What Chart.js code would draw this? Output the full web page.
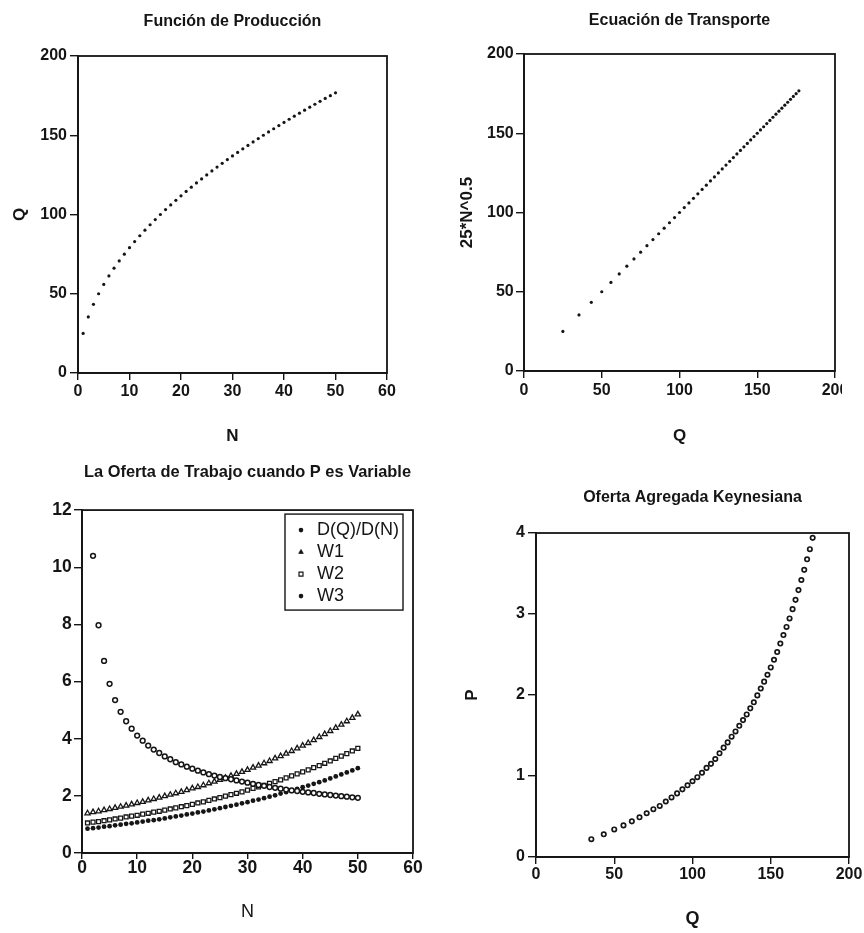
<!DOCTYPE html>
<html>
<head>
<meta charset="utf-8">
<script src="https://cdn.jsdelivr.net/npm/chart.js@4.4.1/dist/chart.umd.min.js"></script>
<style>
html,body{margin:0;padding:0;background:#fff;}
body{width:864px;height:933px;position:relative;overflow:hidden;}
.p{position:absolute;overflow:hidden;}
canvas{display:block;}
</style>
</head>
<body>
<div class="p" style="left:0;top:0;width:432px;height:447px"><canvas id="cA" width="432" height="447" style="width:432px;height:447px"></canvas></div>
<div class="p" style="left:432px;top:0;width:410px;height:447px"><canvas id="cB" width="432" height="447" style="width:432px;height:447px"></canvas></div>
<div class="p" style="left:0;top:447px;width:432px;height:486px"><canvas id="cC" width="432" height="486" style="width:432px;height:486px"></canvas></div>
<div class="p" style="left:432px;top:447px;width:432px;height:486px"><canvas id="cD" width="432" height="486" style="width:432px;height:486px"></canvas></div>
<script>
const FONT = "'Liberation Sans', Arial, Helvetica, sans-serif";
const INK = '#151515';

// ---------------- data ----------------
const N = [1,2,3,4,5,6,7,8,9,10,11,12,13,14,15,16,17,18,19,20,21,22,23,24,25,
           26,27,28,29,30,31,32,33,34,35,36,37,38,39,40,41,42,43,44,45,46,47,48,49,50];
const Q = [25,35.36,43.30,50,55.90,61.24,66.14,70.71,75,79.06,82.92,86.60,90.14,93.54,96.82,
           100,103.08,106.07,108.97,111.80,114.56,117.26,119.90,122.47,125,127.48,129.90,132.29,
           134.63,136.93,139.19,141.42,143.61,145.77,147.90,150,152.07,154.11,156.12,158.11,160.08,
           162.02,163.94,165.83,167.71,169.56,171.39,173.21,175,176.78];
const TRANSPORT = [25,35.36,43.30,50,55.90,61.24,66.14,70.71,75,79.06,82.92,86.60,90.14,93.54,96.82,
           100,103.08,106.07,108.97,111.80,114.56,117.26,119.90,122.47,125,127.48,129.90,132.29,
           134.63,136.93,139.19,141.42,143.61,145.77,147.90,150,152.07,154.11,156.12,158.11,160.08,
           162.02,163.94,165.83,167.71,169.56,171.39,173.21,175,176.78];
// D(Q)/D(N) for N = 2..50
const DQDN = [10.4,7.97,6.72,5.92,5.35,4.94,4.61,4.35,4.11,3.93,3.76,3.62,3.50,3.38,3.28,3.18,
              3.10,3.02,2.95,2.88,2.82,2.76,2.71,2.66,2.62,2.58,2.54,2.50,2.46,2.42,2.38,2.35,
              2.31,2.28,2.25,2.22,2.19,2.17,2.14,2.12,2.10,2.07,2.05,2.03,2.01,1.99,1.97,1.95,1.93];
const W1 = [1.39,1.43,1.46,1.50,1.54,1.58,1.62,1.66,1.70,1.75,1.79,1.84,1.89,1.94,1.99,2.04,2.09,
            2.14,2.20,2.26,2.31,2.37,2.44,2.50,2.56,2.63,2.70,2.77,2.84,2.91,2.99,3.06,3.14,3.22,
            3.31,3.39,3.48,3.57,3.66,3.76,3.85,3.95,4.06,4.16,4.27,4.38,4.49,4.61,4.73,4.85];
const W2 = [1.05,1.08,1.10,1.13,1.16,1.19,1.22,1.26,1.29,1.32,1.36,1.39,1.43,1.46,1.50,1.54,1.58,
            1.62,1.66,1.70,1.75,1.79,1.84,1.89,1.94,1.99,2.04,2.09,2.14,2.20,2.26,2.31,2.37,2.44,
            2.50,2.56,2.63,2.70,2.77,2.84,2.91,2.99,3.06,3.14,3.22,3.31,3.39,3.48,3.57,3.66];
const W3 = [0.85,0.87,0.89,0.92,0.94,0.97,0.99,1.02,1.04,1.07,1.10,1.13,1.15,1.18,1.21,1.25,1.28,
            1.31,1.35,1.38,1.42,1.45,1.49,1.53,1.57,1.61,1.65,1.69,1.74,1.78,1.83,1.87,1.92,1.97,
            2.02,2.08,2.13,2.18,2.24,2.30,2.36,2.42,2.48,2.54,2.61,2.68,2.75,2.82,2.89,2.97];
// P for N = 2..50
const P = [0.22,0.28,0.34,0.39,0.44,0.49,0.54,0.59,0.63,0.685,0.735,0.785,0.835,0.885,0.935,0.985,
           1.04,1.10,1.15,1.21,1.28,1.35,1.415,1.485,1.55,1.62,1.69,1.76,1.835,1.91,1.995,2.08,
           2.165,2.25,2.34,2.435,2.53,2.635,2.74,2.84,2.945,3.06,3.175,3.295,3.42,3.545,3.675,3.80,3.94];

const TICKS_N = [0,10,20,30,40,50,60];
const TICKS_Q = [0,50,100,150,200];
const TICKS_W = [0,2,4,6,8,10,12];
const TICKS_P = [0,1,2,3,4];

// ---------------- helpers ----------------
const pts = (xs, ys) => ys.map((y, i) => ({x: xs[i], y}));

const framePlugin = {
  id: 'frame',
  afterDatasetsDraw(chart) {
    const {ctx, chartArea: a} = chart;
    ctx.save();
    ctx.strokeStyle = INK;
    ctx.lineWidth = 1.8;
    ctx.strokeRect(a.left, a.top, a.right - a.left, a.bottom - a.top);
    ctx.restore();
  }
};

const boxLegend = {
  id: 'boxLegend',
  afterDraw(chart) {
    const {ctx, chartArea: a} = chart;
    const w = 118, h = 96;
    const x0 = a.right - 10 - w, y0 = a.top + 4;
    ctx.save();
    ctx.fillStyle = '#fff';
    ctx.fillRect(x0, y0, w, h);
    ctx.strokeStyle = INK;
    ctx.lineWidth = 1.4;
    ctx.strokeRect(x0, y0, w, h);
    ctx.font = '18px ' + FONT;
    ctx.textBaseline = 'middle';
    ctx.textAlign = 'left';
    chart.data.datasets.forEach((ds, i) => {
      const y = y0 + 16 + i * 22;
      ctx.fillStyle = ds.legendFill;
      ctx.strokeStyle = INK;
      ctx.lineWidth = ds.legendBorder;
      Chart.helpers.drawPoint(ctx, {pointStyle: ds.pointStyle, radius: ds.legendRadius,
        borderWidth: ds.legendBorder, rotation: 0}, x0 + 16, y);
      ctx.fillStyle = INK;
      ctx.fillText(ds.label, x0 + 32, y);
    });
    ctx.restore();
  }
};

function axis(pos, ticksArr, o) {
  return {
    type: 'linear', position: pos,
    min: ticksArr[0], max: ticksArr[ticksArr.length - 1],
    afterBuildTicks(s) { s.ticks = ticksArr.map(v => ({value: v})); },
    ticks: {stepSize: ticksArr[1] - ticksArr[0], color: INK, autoSkip: false, maxRotation: 0,
            font: {family: FONT, size: o.fs, weight: 'bold'}, padding: o.pad,
            callback: v => String(v)},
    grid: {display: true, drawOnChartArea: false, drawTicks: true, tickLength: o.tl,
           color: INK, lineWidth: 1.4},
    border: {display: true, color: INK, width: 1.8},
    title: {display: !!o.title, text: o.title || '', color: INK, padding: 0,
            font: {family: FONT, size: o.tfs || 17, weight: o.tw || 'bold'}},
    afterFit(s) { if (pos === 'bottom') s.height = o.size; else s.width = o.size; }
  };
}

function make(id, cfg) {
  return new Chart(document.getElementById(id), {
    type: 'scatter',
    data: {datasets: cfg.datasets},
    options: {
      responsive: false, animation: false, events: [],
      layout: {padding: cfg.pad},
      plugins: {
        legend: {display: false}, tooltip: {enabled: false},
        title: {display: true, text: cfg.title, fullSize: false, color: INK,
                font: {family: FONT, size: cfg.tsize || 16, weight: 'bold'}, padding: cfg.titlePad}
      },
      scales: {x: cfg.x, y: cfg.y}
    },
    plugins: cfg.legend ? [framePlugin, boxLegend] : [framePlugin]
  });
}

const dot = (data) => ({data, showLine: false, pointStyle: 'circle', pointRadius: 1.6,
  pointBackgroundColor: INK, pointBorderWidth: 0, pointBorderColor: INK});

// ---------------- panel A ----------------
make('cA', {
  title: 'Función de Producción',
  pad: {left: 10, right: 45, top: 0, bottom: 0},
  titlePad: {top: 12.4, bottom: 24.4},
  datasets: [dot(pts(N, Q))],
  x: axis('bottom', TICKS_N, {fs: 16, pad: 1.5, tl: 7, size: 74, title: 'N'}),
  y: axis('left', TICKS_Q, {fs: 16, pad: 3, tl: 8, size: 68, title: 'Q'})
});

// ---------------- panel B ----------------
make('cB', {
  title: 'Ecuación de Transporte',
  pad: {left: 25.4, right: 29, top: 0, bottom: 0},
  titlePad: {top: 11.4, bottom: 23.4},
  datasets: [dot(pts(Q, TRANSPORT))],
  x: axis('bottom', TICKS_Q, {fs: 16, pad: 3, tl: 7, size: 76, title: 'Q'}),
  y: axis('left', TICKS_Q, {fs: 16, pad: 2.3, tl: 8, size: 66.6, title: '25*N^0.5'})
});

// ---------------- panel C ----------------
make('cC', {
  title: 'La Oferta de Trabajo cuando P es Variable',
  tsize: 16.4,
  pad: {left: 0, right: 19, top: 0, bottom: 10.4},
  titlePad: {top: 15.2, bottom: 28.2},
  legend: true,
  datasets: [
    {label: 'D(Q)/D(N)', data: pts(N.slice(1), DQDN), showLine: false, pointStyle: 'circle',
     pointRadius: 2.4, pointBorderWidth: 1.5, pointBackgroundColor: '#fff', pointBorderColor: INK,
     legendFill: INK, legendRadius: 2.3, legendBorder: 0},
    {label: 'W1', data: pts(N, W1), showLine: false, pointStyle: 'triangle',
     pointRadius: 3, pointBorderWidth: 1.3, pointBackgroundColor: '#fff', pointBorderColor: INK,
     legendFill: INK, legendRadius: 2.6, legendBorder: 0.8},
    {label: 'W2', data: pts(N, W2), showLine: false, pointStyle: 'rect',
     pointRadius: 2.8, pointBorderWidth: 1.3, pointBackgroundColor: '#fff', pointBorderColor: INK,
     legendFill: '#fff', legendRadius: 2.8, legendBorder: 1.2},
    {label: 'W3', data: pts(N, W3), showLine: false, pointStyle: 'circle',
     pointRadius: 2.4, pointBorderWidth: 0, pointBackgroundColor: INK, pointBorderColor: INK,
     legendFill: INK, legendRadius: 2.3, legendBorder: 0}
  ],
  x: axis('bottom', TICKS_N, {fs: 17.5, pad: -1.5, tl: 6, size: 69.6, title: 'N', tfs: 18, tw: 'normal'}),
  y: axis('left', TICKS_W, {fs: 17.5, pad: 2.3, tl: 8, size: 82})
});

// ---------------- panel D ----------------
make('cD', {
  title: 'Oferta Agregada Keynesiana',
  pad: {left: 30.4, right: 15, top: 0, bottom: 3.4},
  titlePad: {top: 41.4, bottom: 25.4},
  datasets: [{data: pts(Q.slice(1), P), showLine: false, pointStyle: 'circle', pointRadius: 2.2,
              pointBorderWidth: 1.7, pointBackgroundColor: '#fff', pointBorderColor: INK}],
  x: axis('bottom', TICKS_Q, {fs: 16, pad: 1.4, tl: 7, size: 72.6, title: 'Q', tfs: 18}),
  y: axis('left', TICKS_P, {fs: 16, pad: 3, tl: 8, size: 73.6, title: 'P'})
});
</script>
</body>
</html>
